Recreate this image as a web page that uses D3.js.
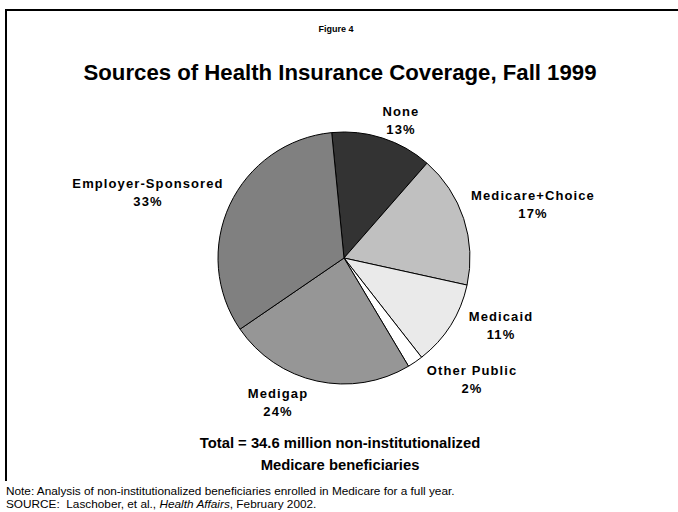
<!DOCTYPE html>
<html>
<head>
<meta charset="utf-8">
<script src="https://cdn.jsdelivr.net/npm/d3@7"></script>
<style>
  html, body { margin: 0; padding: 0; background: #fff; }
  svg { display: block; }
  text { font-family: Arial, "Liberation Sans", Helvetica, sans-serif; fill: #000; }
</style>
</head>
<body>
<svg id="chart" width="678" height="512"></svg>
<script>
// Coverage sources, clockwise from the top of the pie
const categories = ["None", "Medicare+Choice", "Medicaid", "Other Public", "Medigap", "Employer-Sponsored"];
const shares = [13, 17, 11, 2, 24, 33];
const sliceColors = ["#333333", "#c0c0c0", "#eaeaea", "#ffffff", "#969696", "#808080"];

// Label anchor points (centre of the first text line's baseline)
const labelAnchors = [[401, 116], [533, 200], [501, 321], [472, 375], [278, 398], [148, 188]];

const svg = d3.select("#chart");

// Frame: top and left rules
svg.append("path")
  .attr("d", "M6,481 V10 H678")
  .attr("fill", "none")
  .attr("stroke", "#000")
  .attr("stroke-width", 2);

svg.append("text")
  .attr("x", 336).attr("y", 32)
  .attr("text-anchor", "middle")
  .attr("font-size", 9).attr("font-weight", "bold")
  .text("Figure 4");

svg.append("text")
  .attr("x", 340).attr("y", 80)
  .attr("text-anchor", "middle")
  .attr("font-size", 22.2).attr("font-weight", "bold")
  .text("Sources of Health Insurance Coverage, Fall 1999");

// Pie
const cx = 344, cy = 258, R = 126;
const offset = -5.6 * Math.PI / 180;
const pie = d3.pie().sort(null).value(d => d)
  .startAngle(offset).endAngle(offset + 2 * Math.PI);
const arc = d3.arc().innerRadius(0).outerRadius(R);
const color = d3.scaleOrdinal().domain(categories).range(sliceColors);

const g = svg.append("g").attr("transform", `translate(${cx},${cy})`);
const arcs = pie(shares);
g.selectAll("path.slice")
  .data(arcs)
  .join("path")
  .attr("class", "slice")
  .attr("d", arc)
  .attr("fill", (d, i) => color(categories[i]))
  .attr("stroke", "#000")
  .attr("stroke-width", 1)
  .attr("stroke-linejoin", "round");

// Slice labels: name on the first line, share on the second
const labels = svg.selectAll("g.label")
  .data(arcs)
  .join("g")
  .attr("class", "label")
  .attr("transform", (d, i) => `translate(${labelAnchors[i][0]},${labelAnchors[i][1]})`);
labels.append("text")
  .attr("text-anchor", "middle")
  .attr("font-size", 13).attr("font-weight", "bold")
  .attr("letter-spacing", 1.1)
  .text((d, i) => categories[i]);
labels.append("text")
  .attr("y", 18)
  .attr("text-anchor", "middle")
  .attr("font-size", 13).attr("font-weight", "bold")
  .attr("letter-spacing", 1.1)
  .text(d => d3.format("d")(d.value) + "%");

svg.append("text")
  .attr("x", 340).attr("y", 448)
  .attr("text-anchor", "middle")
  .attr("font-size", 14.8).attr("font-weight", "bold")
  .text("Total = 34.6 million non-institutionalized");
svg.append("text")
  .attr("x", 340).attr("y", 470)
  .attr("text-anchor", "middle")
  .attr("font-size", 14.8).attr("font-weight", "bold")
  .text("Medicare beneficiaries");

svg.append("text")
  .attr("x", 6).attr("y", 495)
  .attr("font-size", 11.8)
  .text("Note: Analysis of non-institutionalized beneficiaries enrolled in Medicare for a full year.");
const src = svg.append("text")
  .attr("x", 6).attr("y", 508)
  .attr("font-size", 11.8);
src.append("tspan").text("SOURCE:\u00a0 Laschober, et al., ");
src.append("tspan").attr("font-style", "italic").text("Health Affairs");
src.append("tspan").text(", February 2002.");
</script>
</body>
</html>
